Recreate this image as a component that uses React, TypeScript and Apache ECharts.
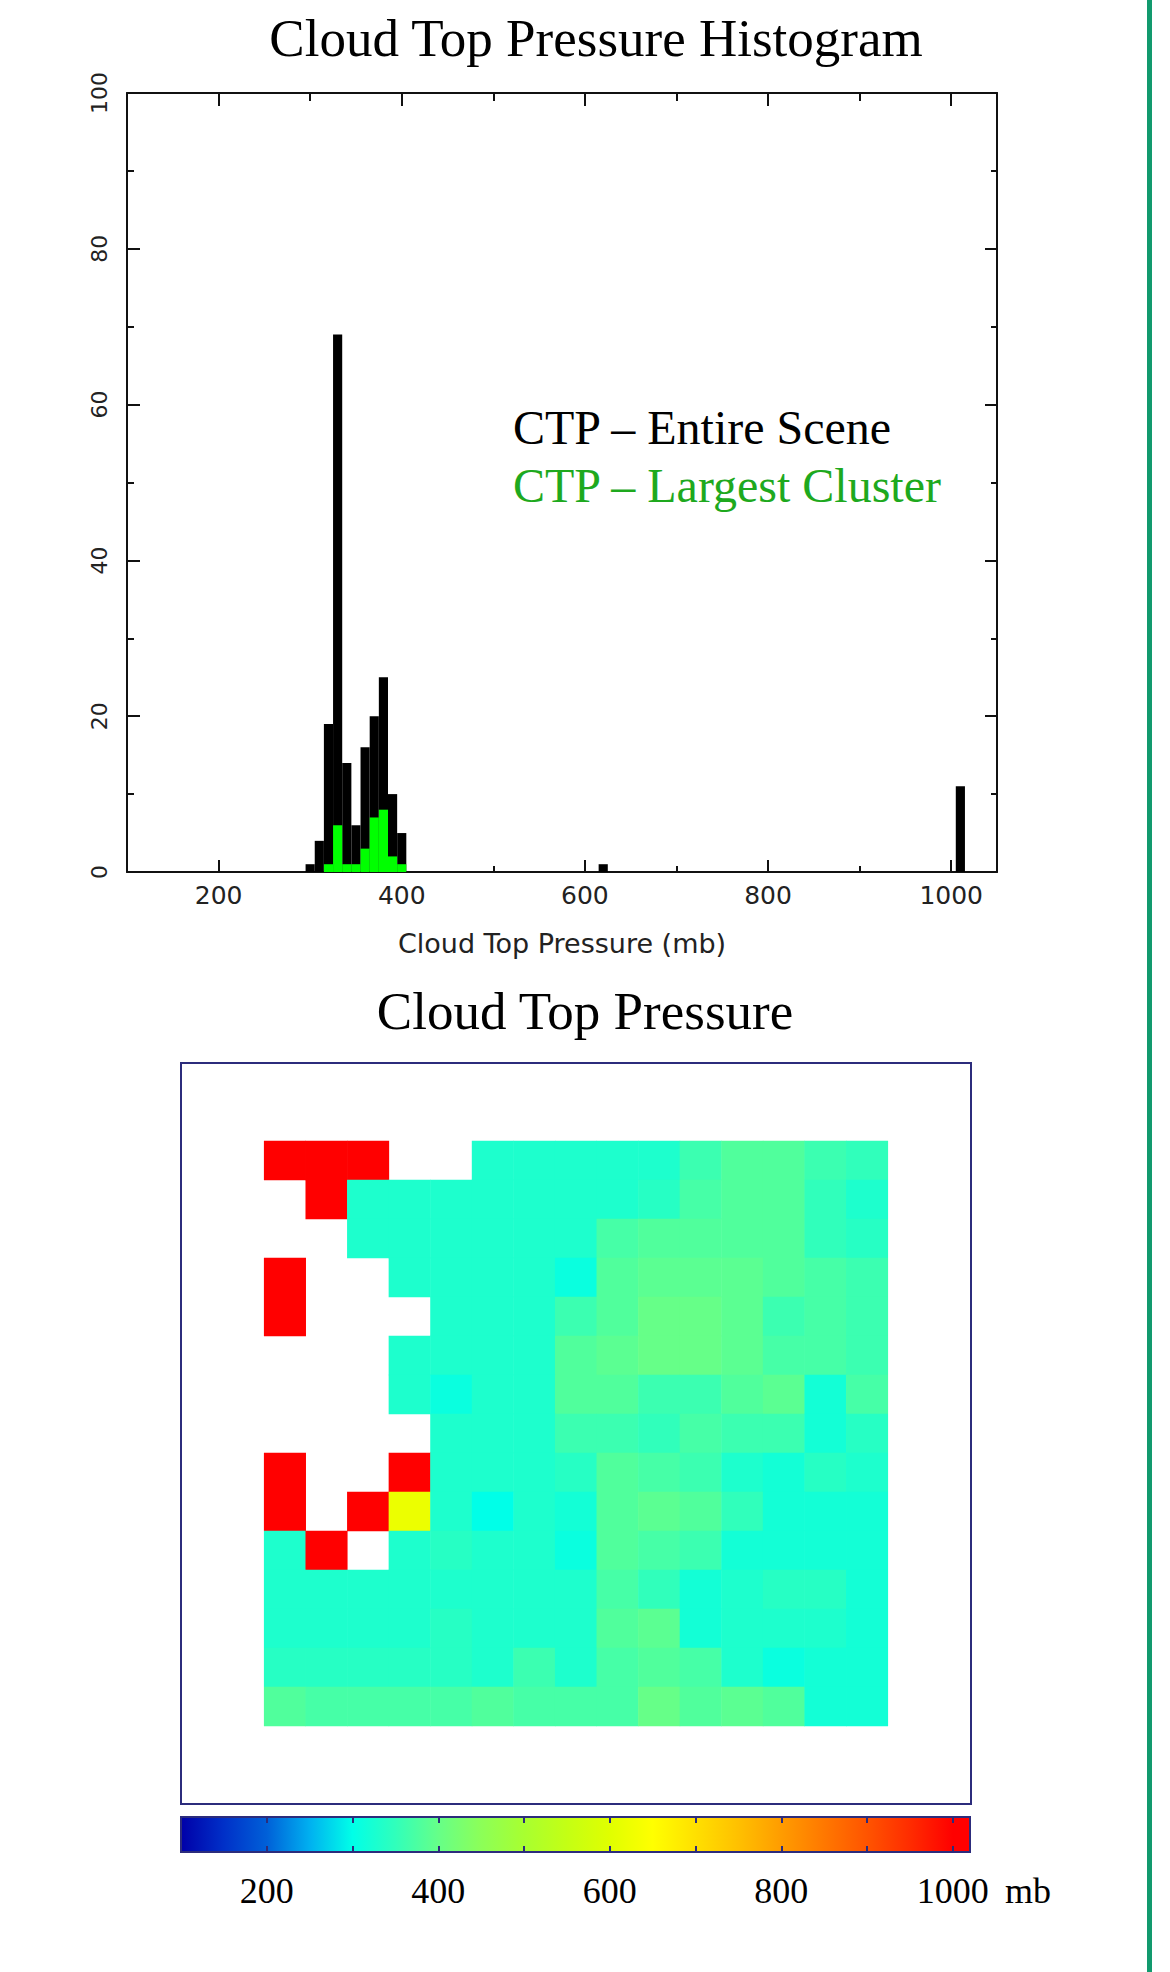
import React, { useEffect, useRef } from "react";
import * as echarts from "echarts";

// ---------------- Histogram data (Cloud Top Pressure, mb) ----------------
const BIN_WIDTH = 10;
const sceneBinCenters = [300, 310, 320, 330, 340, 350, 360, 370, 380, 390, 400, 620, 1010];
const sceneCounts = [1, 4, 19, 69, 14, 6, 16, 20, 25, 10, 5, 1, 11];
const clusterBinCenters = [320, 330, 340, 350, 360, 370, 380, 390, 400];
const clusterCounts = [1, 6, 1, 1, 3, 7, 8, 2, 1];

const histMajorTicks = [200, 400, 600, 800, 1000];
const histMinorTicks = [300, 500, 700, 900];

// ---------------- Cloud top pressure image (15 x 15, mb; null = no cloud) ----------------
const _ = null;
const ctpGrid: (number | null)[][] = [
  [1010, 1010, 1010, _, _, 330, 330, 330, 330, 330, 360, 380, 380, 360, 350],
  [_, 1010, 330, 330, 330, 330, 330, 330, 330, 340, 370, 380, 380, 350, 330],
  [_, _, 330, 330, 330, 330, 330, 330, 370, 380, 380, 380, 380, 350, 340],
  [1010, _, _, 330, 330, 330, 330, 310, 380, 390, 390, 390, 380, 370, 360],
  [1010, _, _, _, 330, 330, 330, 360, 380, 400, 400, 390, 360, 370, 360],
  [_, _, _, 330, 330, 330, 330, 380, 390, 400, 400, 390, 370, 370, 360],
  [_, _, _, 330, 310, 330, 330, 380, 380, 360, 360, 380, 390, 320, 370],
  [_, _, _, _, 330, 330, 330, 360, 360, 350, 370, 360, 360, 320, 340],
  [1010, _, _, 1010, 330, 330, 330, 340, 380, 370, 360, 330, 320, 340, 330],
  [1010, _, 1010, 620, 330, 300, 330, 320, 380, 390, 380, 350, 320, 320, 320],
  [330, 1010, _, 330, 340, 330, 330, 310, 380, 370, 360, 320, 320, 320, 320],
  [330, 330, 330, 330, 330, 330, 330, 330, 370, 350, 320, 330, 340, 340, 320],
  [330, 330, 330, 330, 340, 330, 330, 330, 380, 390, 320, 330, 330, 330, 320],
  [340, 340, 340, 340, 340, 330, 360, 330, 370, 380, 370, 330, 310, 320, 320],
  [380, 370, 370, 370, 370, 380, 370, 370, 370, 400, 380, 390, 380, 320, 320],
];
const SCENE_SIZE = 19; // framed image is 19 x 19 pixels, data in the centre 15 x 15
const SCENE_PAD = 2;

// ---------------- Colour scale ----------------
const colorLevels = [100, 150, 200, 250, 300, 350, 400, 450, 500, 550, 600, 650, 700, 750, 800, 850, 900, 950, 1000];
const colorList = [
  "#0000a8", "#0030c8", "#0060d8", "#00b0f0", "#00ffe8", "#30ffbb", "#66ff88", "#8cff58", "#a8ff30",
  "#c4ff14", "#e0ff00", "#ffff00", "#ffe000", "#ffc000", "#ff9c00", "#ff7800", "#ff5400", "#ff2c00", "#ff0000",
];
const CB_MIN = 100;
const CB_MAX = 1020;
const colorbarTicks = [200, 300, 400, 500, 600, 700, 800, 900, 1000];
const colorbarLabels = [200, 400, 600, 800, 1000];

const NAVY = "#2c2c7c";
const INK = "#111";

export default function App() {
  const ref = useRef<HTMLDivElement>(null);

  useEffect(() => {
    if (!ref.current) return;
    const chart = echarts.init(ref.current, undefined, { renderer: "svg" });

    const sceneData = sceneBinCenters.map((c, i) => [c, sceneCounts[i]]);
    const clusterData = clusterBinCenters.map((c, i) => [c, clusterCounts[i]]);

    const heatData: number[][] = [];
    ctpGrid.forEach((row, r) =>
      row.forEach((v, c) => {
        if (v != null) heatData.push([c + SCENE_PAD, r + SCENE_PAD, v]);
      })
    );
    const sceneCats = Array.from({ length: SCENE_SIZE }, (_x, i) => String(i));

    const histRender = (fill: string) => (params: any, api: any) => {
      const x = api.value(0);
      const y = api.value(1);
      const p0 = api.coord([x - BIN_WIDTH / 2, y]);
      const p1 = api.coord([x + BIN_WIDTH / 2, 0]);
      return {
        type: "rect",
        shape: { x: p0[0], y: p0[1], width: p1[0] - p0[0], height: p1[1] - p0[1] },
        style: { fill },
      };
    };

    const gradStops = colorLevels.map((v, i) => ({
      offset: (v - CB_MIN) / (CB_MAX - CB_MIN),
      color: colorList[i],
    }));
    gradStops.push({ offset: 1, color: colorList[colorList.length - 1] });

    const plain = (v: number) => String(v);
    const tickStyle = { color: INK, width: 2 };
    const labelFont = { fontFamily: "DejaVu Sans", color: "#222" };

    chart.setOption({
      animation: false,
      backgroundColor: "#ffffff",
      grid: [
        { left: 127, top: 93, width: 870, height: 779 },
        {
          left: 181, top: 1063, width: 790, height: 741, show: true,
          borderColor: NAVY, borderWidth: 2, backgroundColor: "transparent", z: 5,
        },
        {
          left: 181, top: 1817, width: 789, height: 35, show: true,
          borderColor: NAVY, borderWidth: 2, backgroundColor: "transparent", z: 5,
        },
      ],
      xAxis: [
        {
          gridIndex: 0, type: "value", min: 100, max: 1050, interval: 100, position: "bottom",
          axisLine: { lineStyle: { color: INK, width: 2 } },
          axisTick: { inside: true, length: 12, customValues: histMajorTicks, lineStyle: tickStyle },
          axisLabel: { customValues: histMajorTicks, formatter: plain, fontSize: 25, margin: 11, ...labelFont },
          splitLine: { show: false },
          name: "Cloud Top Pressure (mb)",
          nameLocation: "middle",
          nameGap: 58,
          nameTextStyle: { fontSize: 27, ...labelFont },
        },
        {
          gridIndex: 0, type: "value", min: 100, max: 1050, interval: 100, position: "bottom",
          axisLine: { show: false },
          axisTick: { inside: true, length: 6, customValues: histMinorTicks, lineStyle: tickStyle },
          axisLabel: { show: false },
          splitLine: { show: false },
        },
        {
          gridIndex: 0, type: "value", min: 100, max: 1050, interval: 100, position: "top",
          axisLine: { lineStyle: { color: INK, width: 2 } },
          axisTick: { inside: true, length: 13, customValues: histMajorTicks, lineStyle: tickStyle },
          axisLabel: { show: false },
          splitLine: { show: false },
        },
        {
          gridIndex: 0, type: "value", min: 100, max: 1050, interval: 100, position: "top",
          axisLine: { show: false },
          axisTick: { inside: true, length: 8, customValues: histMinorTicks, lineStyle: tickStyle },
          axisLabel: { show: false },
          splitLine: { show: false },
        },
        { gridIndex: 1, type: "category", data: sceneCats, show: false },
        {
          gridIndex: 2, type: "value", min: CB_MIN, max: CB_MAX, position: "bottom", z: 10,
          axisLine: { show: false },
          axisTick: { inside: true, length: 6, customValues: colorbarTicks, lineStyle: { color: NAVY, width: 2 } },
          axisLabel: {
            customValues: colorbarLabels, formatter: plain, fontSize: 36, fontFamily: "Liberation Serif",
            color: "#000", margin: 21,
          },
          splitLine: { show: false },
        },
        {
          gridIndex: 2, type: "value", min: CB_MIN, max: CB_MAX, position: "top", z: 10,
          axisLine: { show: false },
          axisTick: { inside: true, length: 6, customValues: colorbarTicks, lineStyle: { color: NAVY, width: 2 } },
          axisLabel: { show: false },
          splitLine: { show: false },
        },
      ],
      yAxis: [
        {
          gridIndex: 0, type: "value", min: 0, max: 100, interval: 20, position: "left",
          axisLine: { lineStyle: { color: INK, width: 2 } },
          axisTick: { inside: true, length: 13, lineStyle: tickStyle },
          minorTick: { show: true, splitNumber: 2, length: 7, lineStyle: tickStyle },
          axisLabel: { rotate: 90, fontSize: 22, margin: 17, ...labelFont },
          splitLine: { show: false },
          minorSplitLine: { show: false },
        },
        {
          gridIndex: 0, type: "value", min: 0, max: 100, interval: 20, position: "right",
          axisLine: { lineStyle: { color: INK, width: 2 } },
          axisTick: { inside: true, length: 12, lineStyle: tickStyle },
          minorTick: { show: true, splitNumber: 2, length: 6, lineStyle: tickStyle },
          axisLabel: { show: false },
          splitLine: { show: false },
          minorSplitLine: { show: false },
        },
        { gridIndex: 1, type: "category", data: sceneCats, inverse: true, show: false },
        { gridIndex: 2, type: "value", min: 0, max: 1, show: false },
      ],
      visualMap: [
        {
          type: "continuous", show: false, min: 100, max: 1000, dimension: 2, seriesIndex: 2,
          inRange: { color: colorList },
        },
      ],
      series: [
        {
          type: "custom", name: "CTP – Entire Scene", coordinateSystem: "cartesian2d",
          xAxisIndex: 0, yAxisIndex: 0, data: sceneData, encode: { x: 0, y: 1 },
          renderItem: histRender("#000000"), silent: true,
        },
        {
          type: "custom", name: "CTP – Largest Cluster", coordinateSystem: "cartesian2d",
          xAxisIndex: 0, yAxisIndex: 0, data: clusterData, encode: { x: 0, y: 1 },
          renderItem: histRender("#00ff00"), silent: true,
        },
        {
          type: "heatmap", xAxisIndex: 4, yAxisIndex: 2, data: heatData,
          itemStyle: { borderWidth: 0 }, emphasis: { disabled: true }, silent: true,
        },
        {
          type: "custom", coordinateSystem: "cartesian2d", xAxisIndex: 5, yAxisIndex: 3,
          data: [[CB_MIN, CB_MAX]], silent: true,
          renderItem: (params: any, api: any) => {
            const p0 = api.coord([api.value(0), 1]);
            const p1 = api.coord([api.value(1), 0]);
            return {
              type: "rect",
              shape: { x: p0[0], y: p0[1], width: p1[0] - p0[0], height: p1[1] - p0[1] },
              style: {
                fill: new echarts.graphic.LinearGradient(0, 0, 1, 0, gradStops),
              },
            };
          },
        },
      ],
      graphic: [
        {
          type: "rect", shape: { x: 1147, y: 0, width: 5, height: 1972 },
          style: { fill: "#129a6e" }, silent: true,
        },
        {
          type: "text", x: 596, y: 38,
          style: {
            text: "Cloud Top Pressure Histogram", fontSize: 53, fontFamily: "Liberation Serif",
            fill: "#000", align: "center", verticalAlign: "middle",
          },
        },
        {
          type: "text", x: 513, y: 427,
          style: {
            text: "CTP – Entire Scene", fontSize: 48, fontFamily: "Liberation Serif",
            fill: "#000", align: "left", verticalAlign: "middle",
          },
        },
        {
          type: "text", x: 513, y: 485,
          style: {
            text: "CTP – Largest Cluster", fontSize: 48, fontFamily: "Liberation Serif",
            fill: "#1ea91e", align: "left", verticalAlign: "middle",
          },
        },
        {
          type: "text", x: 585, y: 1011,
          style: {
            text: "Cloud Top Pressure", fontSize: 53, fontFamily: "Liberation Serif",
            fill: "#000", align: "center", verticalAlign: "middle",
          },
        },
        {
          type: "text", x: 1005, y: 1891,
          style: {
            text: "mb", fontSize: 36, fontFamily: "Liberation Serif",
            fill: "#000", align: "left", verticalAlign: "middle",
          },
        },
      ],
    });

    return () => chart.dispose();
  }, []);

  return (
    <div
      ref={ref}
      style={{ position: "absolute", left: 0, top: 0, width: 1170, height: 1972 }}
    />
  );
}
